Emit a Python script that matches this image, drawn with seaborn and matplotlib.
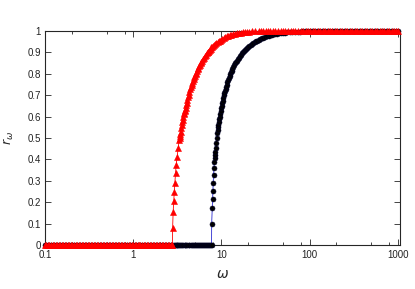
import numpy as np
import pandas as pd
import matplotlib
matplotlib.use("Agg")
import matplotlib.pyplot as plt
import matplotlib.ticker as mticker
import seaborn as sns

# omega values where both order parameters are still zero
omega_zero = [0.100, 0.104, 0.108, 0.112, 0.117, 0.122, 0.127, 0.132, 0.137, 0.143, 0.149,
              0.155, 0.161, 0.168, 0.175, 0.182, 0.189, 0.197, 0.205, 0.213, 0.222, 0.231,
              0.240, 0.250, 0.260, 0.271, 0.282, 0.293, 0.305, 0.317, 0.330, 0.343, 0.357,
              0.372, 0.387, 0.402, 0.418, 0.435, 0.453, 0.471, 0.490, 0.510, 0.530, 0.552,
              0.574, 0.597, 0.621, 0.646, 0.672, 0.699, 0.727, 0.756, 0.787, 0.818, 0.851,
              0.886, 0.921, 0.958, 0.997, 1.04, 1.08, 1.12, 1.17, 1.21, 1.26, 1.31, 1.37,
              1.42, 1.48, 1.54, 1.60, 1.66, 1.73, 1.80, 1.87, 1.95, 2.02, 2.10, 2.19, 2.28,
              2.37, 2.46, 2.56, 2.66, 2.74, 2.78]

# red triangles: (omega, r) on the rising branch
red_rise = [(2.80, .078), (2.84, .156), (2.89, .207), (2.92, .249), (2.97, .291),
            (3.02, .335), (3.07, .374), (3.15, .413), (3.24, .452), (3.32, .49),
            (3.36, .50), (3.40, .51), (3.44, .52), (3.47, .53), (3.52, .545), (3.56, .56),
            (3.61, .573), (3.65, .585), (3.70, .598), (3.75, .61), (3.80, .618),
            (3.85, .625), (3.90, .633), (3.95, .64), (4.01, .653), (4.07, .665),
            (4.13, .678), (4.20, .69), (4.27, .703), (4.35, .715), (4.42, .728),
            (4.50, .74), (4.60, .748), (4.69, .755), (4.77, .765), (4.85, .775),
            (4.92, .783), (5.0, .79), (5.1, .798), (5.2, .805), (5.3, .814), (5.4, .822),
            (5.49, .829), (5.58, .836), (5.69, .843), (5.8, .85), (5.94, .856),
            (6.08, .862), (6.21, .868), (6.35, .874), (6.52, .882), (6.7, .89),
            (6.85, .895), (7.0, .90), (7.12, .904), (7.23, .907), (7.39, .913),
            (7.55, .918), (7.71, .923), (7.87, .927), (8.08, .931), (8.3, .935),
            (8.55, .94), (8.8, .945), (9.05, .949), (9.3, .952), (9.55, .955), (9.8, .958),
            (10.2, .962), (10.65, .967), (11.1, .972), (11.55, .975), (12.0, .978),
            (12.5, .981), (13.0, .983), (13.6, .986), (14.3, .988), (15.0, .990),
            (15.7, .992), (16.6, .993), (17.5, .994), (18.5, .995), (19.5, .996),
            (20.7, .997), (22.0, .998), (24.0, .998), (26.4, .999)]
# red triangles sitting at r = 1
red_omega_one = [28, 30, 32, 34, 36, 38.5, 41, 44, 47, 50, 53, 57, 61, 65, 69, 74, 79, 84,
                 90, 96, 102, 109, 116, 124, 132, 141, 150, 160, 171, 182, 194, 207, 221,
                 236, 252, 269, 287, 306, 326, 348, 371, 396, 422, 450, 480, 512, 546, 583,
                 622, 663, 707, 754, 805, 858, 915, 960, 1000]

# black circles: extra zeros up to the threshold
black_omega_zero = [2.88, 2.95, 3.02, 3.10, 3.18, 3.26, 3.35, 3.44, 3.53, 3.62, 3.72, 3.82,
                    3.92, 4.02, 4.13, 4.24, 4.35, 4.47, 4.59, 4.71, 4.84, 4.97, 5.10, 5.24,
                    5.38, 5.52, 5.67, 5.82, 5.97, 6.13, 6.30, 6.47, 6.64, 6.82, 7.00, 7.18,
                    7.37, 7.56, 7.74]
black_rise = [(7.76, .098), (7.88, .171), (7.96, .213), (8.02, .254), (8.08, .291),
              (8.17, .327), (8.23, .358), (8.30, .389), (8.38, .405), (8.45, .42),
              (8.52, .436), (8.60, .452), (8.70, .475), (8.83, .50), (8.97, .522),
              (9.06, .537), (9.15, .55), (9.25, .563), (9.35, .575), (9.45, .588),
              (9.55, .60), (9.68, .613), (9.8, .625), (9.92, .638), (10.05, .65),
              (10.2, .663), (10.35, .675), (10.5, .688), (10.67, .70), (10.83, .71),
              (11.0, .72), (11.17, .73), (11.35, .74), (11.52, .75), (11.7, .76),
              (11.92, .77), (12.15, .78), (12.37, .79), (12.6, .80), (12.85, .807),
              (13.1, .815), (13.35, .822), (13.6, .83), (13.95, .84), (14.3, .85),
              (14.7, .855), (15.1, .86), (15.5, .868), (15.9, .875), (16.35, .883),
              (16.8, .89), (17.3, .895), (17.8, .90), (18.25, .906), (18.7, .912),
              (19.1, .916), (19.5, .92), (20.1, .925), (20.8, .93), (21.5, .935),
              (22.2, .94), (23.0, .944), (23.8, .948), (24.7, .952), (25.6, .955),
              (26.6, .959), (27.6, .962), (28.8, .965), (30, .968), (31.5, .972),
              (33, .975), (34.5, .978), (36, .98), (37.5, .982), (39, .984), (41, .986),
              (43, .987), (45.5, .989), (48, .99), (50.5, .992), (53, .993), (56, .994),
              (60, .995), (64, .995), (68, .996), (73, .997), (78, .997), (83, .998),
              (88, .998), (94, .999), (100, .999)]
black_omega_one = [106, 113, 121, 129, 137, 146, 156, 167, 178, 190, 202, 216, 230, 245,
                   262, 279, 298, 318, 339, 361, 385, 411, 438, 467, 498, 531, 567, 604,
                   645, 688, 733, 782, 834, 890, 949, 1000]

red_df = pd.DataFrame({
    "omega": omega_zero + [w for w, _ in red_rise] + red_omega_one,
    "r": [0.0] * len(omega_zero) + [r for _, r in red_rise] + [1.0] * len(red_omega_one)})
black_df = pd.DataFrame({
    "omega": omega_zero + black_omega_zero + [w for w, _ in black_rise] + black_omega_one,
    "r": [0.0] * (len(omega_zero) + len(black_omega_zero)) + [r for _, r in black_rise]
         + [1.0] * len(black_omega_one)})

sns.set_style("ticks")
plt.rcParams['font.family'] = ['Liberation Sans', 'DejaVu Sans']

fig = plt.figure(figsize=(4.15, 2.89), dpi=100)
ax = fig.add_axes([0.1084, 0.1522, 0.8554, 0.7405])

sns.lineplot(data=black_df, x="omega", y="r", ax=ax, estimator=None, sort=False,
             color="#2b2bd0", linewidth=0.6, marker="o", markersize=3.6,
             markerfacecolor="black", markeredgecolor="#000028", markeredgewidth=0.4,
             clip_on=False, zorder=3)
sns.lineplot(data=red_df, x="omega", y="r", ax=ax, estimator=None, sort=False,
             color="red", linewidth=0.6, marker="^", markersize=3.8,
             markerfacecolor="red", markeredgecolor="red", markeredgewidth=0.4,
             clip_on=False, zorder=4)

ax.set_xscale("log")
ax.set_xlim(0.1, 1060)
ax.set_ylim(0, 1)

ax.xaxis.set_major_locator(mticker.FixedLocator([0.1, 1, 10, 100, 1000]))
ax.xaxis.set_major_formatter(mticker.FixedFormatter(["0.1", "1", "10", "100", "1000"]))
ax.xaxis.set_minor_locator(mticker.LogLocator(base=10, subs=[2, 5, 8]))
ax.xaxis.set_minor_formatter(mticker.NullFormatter())
ax.set_yticks(np.arange(0, 1.01, 0.1))
ax.set_yticklabels(["0", "0.1", "0.2", "0.3", "0.4", "0.5", "0.6", "0.7", "0.8", "0.9", "1"])

ax.tick_params(which="both", direction="in", top=True, right=True, labelsize=7,
               labelcolor="#222222", width=0.6)
ax.tick_params(axis="x", pad=3.5)
ax.tick_params(axis="y", pad=3)
ax.tick_params(which="major", length=4)
ax.tick_params(which="minor", length=2.5)
for s in ax.spines.values():
    s.set_linewidth(0.8)

ax.set_xlabel(r"$\omega$", fontsize=10, labelpad=5)
ax.set_ylabel(r"$r_\omega$", fontsize=9, labelpad=8)

fig.savefig("out.png", dpi=100)
